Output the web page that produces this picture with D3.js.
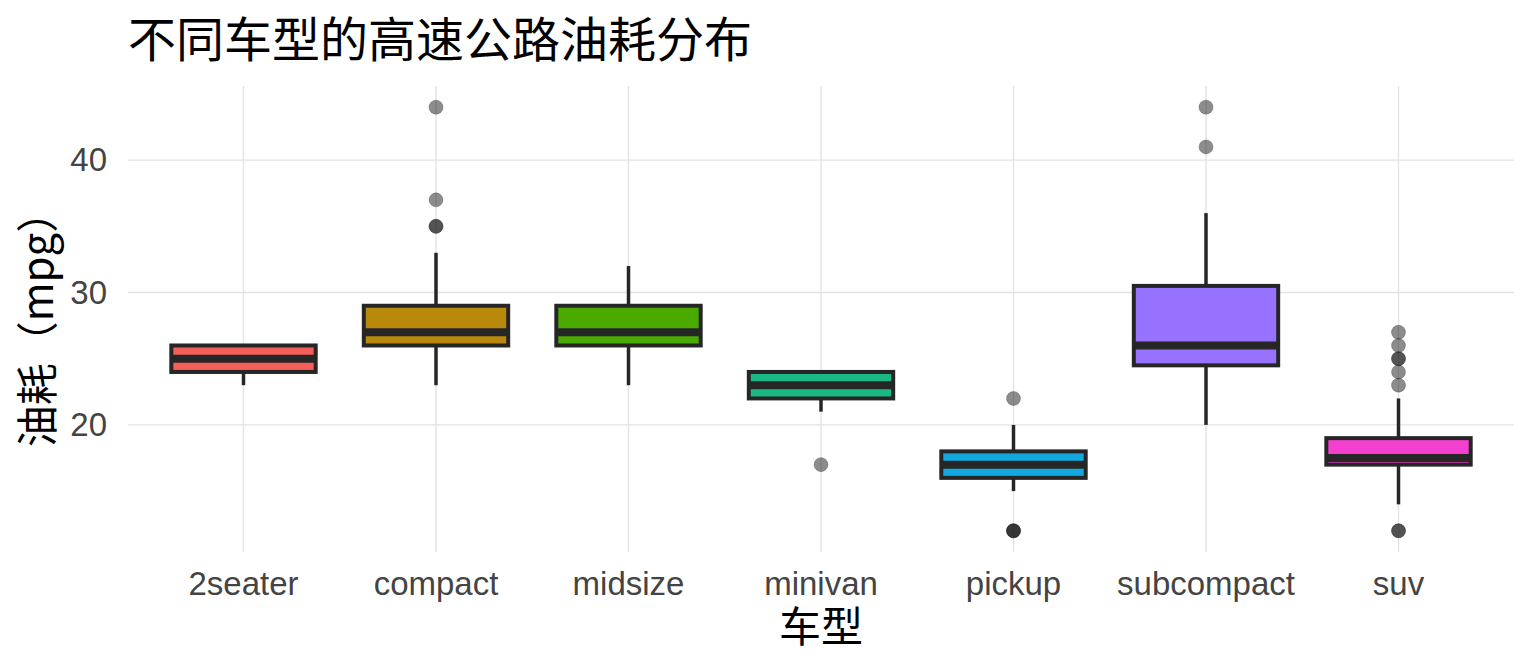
<!DOCTYPE html>
<html lang="zh">
<head>
<meta charset="UTF-8">
<title>不同车型的高速公路油耗分布</title>
<script src="https://cdnjs.cloudflare.com/ajax/libs/d3/7.8.5/d3.min.js"></script>
<style>
  body { margin: 0; background: #fff; }
  text { font-family: "Liberation Sans", Arial, sans-serif; }
  .cjk { font-family: "Noto Sans CJK SC", sans-serif; }
  .grid line { stroke: #e3e3e3; stroke-width: 1.4px; }
</style>
</head>
<body>
<div id="chart"></div>
<script>
// box statistics (hwy mpg by class)
var classes  = ["2seater", "compact", "midsize", "minivan", "pickup", "subcompact", "suv"];
var q1       = [24, 26, 26, 22, 16, 24.5, 17];
var medians  = [25, 27, 27, 23, 17, 26, 17.5];
var q3       = [26, 29, 29, 24, 18, 30.5, 19];
var whiskLo  = [23, 23, 23, 21, 15, 20, 14];
var whiskHi  = [26, 33, 32, 24, 20, 36, 22];
var outliers = [
  [],
  [35, 35, 37, 44],
  [],
  [17],
  [12, 12, 12, 22],
  [41, 44],
  [12, 12, 23, 24, 25, 25, 26, 27]
];
var fills = ["#F45F5A", "#B8890A", "#4AAA00", "#1AB884", "#12A9E0", "#9672FE", "#F43FCF"];
var yTicks = [20, 30, 40];

var W = 1536, H = 672;
var margin = {top: 86, right: 22, bottom: 120, left: 128};

var svg = d3.select("#chart").append("svg")
    .attr("width", W)
    .attr("height", H);

var x = d3.scaleBand()
    .domain(classes)
    .range([margin.left, W - margin.right])
    .paddingOuter(0.1)
    .paddingInner(0);

// ggplot style 5% expansion around data range 12..44
var lo = 12, hi = 44, ex = (hi - lo) * 0.05;
var y = d3.scaleLinear()
    .domain([lo - ex, hi + ex])
    .range([H - margin.bottom, margin.top]);

var boxW = x.bandwidth() * 0.75;
var cx = function(i) { return x(classes[i]) + x.bandwidth() / 2; };

// grid
var grid = svg.append("g").attr("class", "grid");
grid.selectAll(".h").data(yTicks).enter().append("line")
    .attr("x1", margin.left).attr("x2", W - margin.right)
    .attr("y1", function(d) { return y(d); })
    .attr("y2", function(d) { return y(d); });
grid.selectAll(".v").data(classes).enter().append("line")
    .attr("x1", function(d, i) { return cx(i); })
    .attr("x2", function(d, i) { return cx(i); })
    .attr("y1", margin.top).attr("y2", H - margin.bottom);

// axes (text only, like theme_minimal)
var yAxis = svg.append("g")
    .attr("transform", "translate(" + margin.left + ",0)")
    .call(d3.axisLeft(y).tickValues(yTicks).tickSize(0).tickPadding(21));
yAxis.select(".domain").remove();
yAxis.selectAll("text")
    .style("font-size", "33px").style("fill", "#444")
    .style("font-family", "'Liberation Sans', Arial, sans-serif");

var xAxis = svg.append("g")
    .attr("transform", "translate(0," + (H - margin.bottom) + ")")
    .call(d3.axisBottom(x).tickSize(0).tickPadding(20));
xAxis.select(".domain").remove();
xAxis.selectAll("text")
    .style("font-size", "33px").style("fill", "#444")
    .style("font-family", "'Liberation Sans', Arial, sans-serif");

var stroke = "#262626";
var idx = d3.range(classes.length);

// whiskers
svg.selectAll(".whisk").data(idx).enter().append("line")
    .attr("x1", cx).attr("x2", cx)
    .attr("y1", function(i) { return y(whiskLo[i]); })
    .attr("y2", function(i) { return y(whiskHi[i]); })
    .attr("stroke", stroke).attr("stroke-width", 3.5);

// boxes
svg.selectAll(".box").data(idx).enter().append("rect")
    .attr("x", function(i) { return cx(i) - boxW / 2; })
    .attr("width", boxW)
    .attr("y", function(i) { return y(q3[i]); })
    .attr("height", function(i) { return y(q1[i]) - y(q3[i]); })
    .attr("fill", function(i) { return fills[i]; })
    .attr("stroke", stroke).attr("stroke-width", 4);

// medians
svg.selectAll(".med").data(idx).enter().append("line")
    .attr("x1", function(i) { return cx(i) - boxW / 2; })
    .attr("x2", function(i) { return cx(i) + boxW / 2; })
    .attr("y1", function(i) { return y(medians[i]); })
    .attr("y2", function(i) { return y(medians[i]); })
    .attr("stroke", stroke).attr("stroke-width", 8);

// outliers
var pts = [];
outliers.forEach(function(arr, i) {
  arr.forEach(function(v) { pts.push({i: i, v: v}); });
});
svg.selectAll(".out").data(pts).enter().append("circle")
    .attr("cx", function(d) { return cx(d.i); })
    .attr("cy", function(d) { return y(d.v); })
    .attr("r", 7)
    .attr("fill", "#1a1a1a").attr("fill-opacity", 0.5)
    .attr("stroke", "#1a1a1a").attr("stroke-opacity", 0.25).attr("stroke-width", 1);

// titles
svg.append("text").attr("class", "cjk")
    .attr("x", margin.left).attr("y", 57)
    .style("font-size", "48px").style("fill", "#000")
    .text("不同车型的高速公路油耗分布");

svg.append("text").attr("class", "cjk")
    .attr("x", (margin.left + W - margin.right) / 2).attr("y", 642)
    .attr("text-anchor", "middle")
    .style("font-size", "42px").style("fill", "#000")
    .text("车型");

svg.append("text").attr("class", "cjk")
    .attr("transform", "translate(53," + ((margin.top + H - margin.bottom) / 2) + ") rotate(-90)")
    .attr("text-anchor", "middle")
    .style("font-size", "42px").style("fill", "#000")
    .text("油耗（mpg）");
</script>
</body>
</html>
